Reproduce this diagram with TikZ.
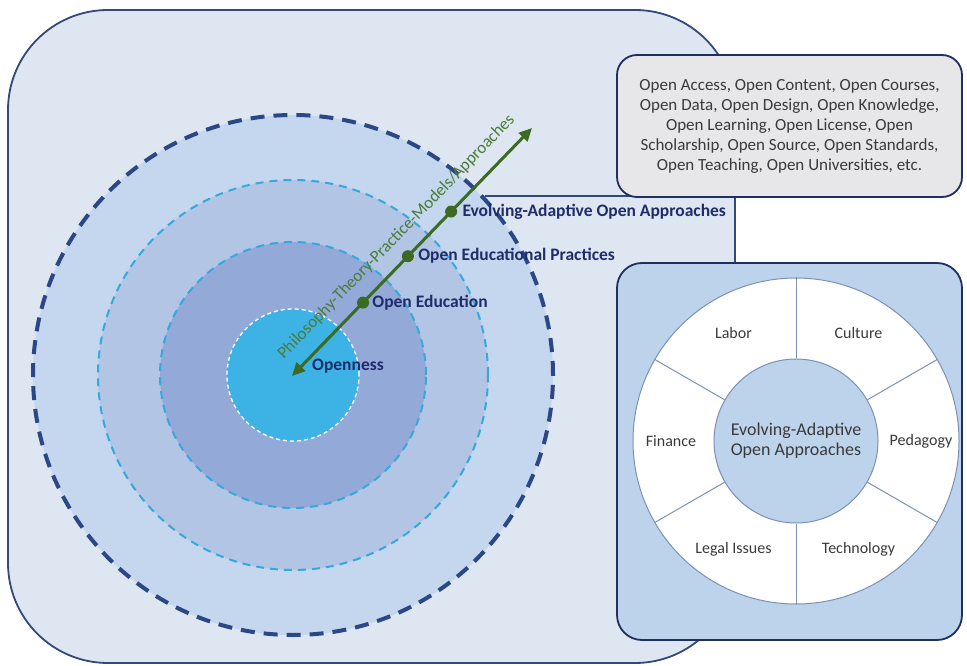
\documentclass[tikz,border=0pt]{standalone}
\usepackage{fontspec}
\setmainfont{Carlito}
\usetikzlibrary{arrows.meta,positioning}
\definecolor{boxfill}{HTML}{DDE6F1}
\definecolor{boxline}{HTML}{34497A}
\definecolor{ringA}{HTML}{C4D7EE}
\definecolor{ringB}{HTML}{B2C5E4}
\definecolor{ringC}{HTML}{93A9D8}
\definecolor{core}{HTML}{3DB2E5}
\definecolor{dashnavy}{HTML}{2B4785}
\definecolor{dashcyan}{HTML}{36A8DC}
\definecolor{navytext}{HTML}{1F2C6A}
\definecolor{leaf}{HTML}{3B6A23}
\definecolor{leaftext}{HTML}{4C7B36}
\definecolor{greyfill}{HTML}{E7E7E9}
\definecolor{panelfill}{HTML}{BDD3EC}
\definecolor{panelline}{HTML}{1F2F5F}
\definecolor{spokeline}{HTML}{7D90B6}
\definecolor{inktext}{HTML}{3A3A3A}
\begin{document}
\begin{tikzpicture}[x=1pt,y=1pt,line join=round,>={Triangle[length=13pt,width=12pt]},
  panel/.style={draw=panelline,line width=1.8pt,rounded corners=#1,inner sep=0pt},
  ring/.style={circle,inner sep=0pt,minimum size=#1},
  stage/.style={anchor=west,inner sep=0pt,text=navytext,font=\bfseries\fontsize{17.5}{20}\selectfont},
  stop/.style={circle,fill=leaf,inner sep=0pt,minimum size=12pt},
  sector/.style={text=inktext,font=\fontsize{16}{18}\selectfont},
  spk/.style={draw=spokeline,line width=1pt}]
\useasboundingbox (0,0) rectangle (967,665);
\node[panel=100pt,draw=boxline,fill=boxfill,minimum width=727pt,minimum height=653pt] (main) at (371.5,328.5) {};

% rings
\coordinate (ctr) at (293,290);
\node[ring=520pt,fill=ringA,draw=dashnavy,line width=4pt,dash pattern=on 14pt off 9pt] (r4) at (ctr) {};
\node[ring=390pt,fill=ringB,draw=dashcyan,line width=2pt,dash pattern=on 8pt off 6pt] (r3) at (ctr) {};
\node[ring=266pt,fill=ringC,draw=dashcyan,line width=2pt,dash pattern=on 8pt off 6pt] (r2) at (ctr) {};
\node[ring=132pt,fill=core,draw=white,line width=1.3pt,dash pattern=on 4pt off 3pt] (r1) at (ctr) {};
\draw[boxline,line width=1.8pt] (r4.43) -- (r4.43 -| main.east);

\node[panel=20pt,fill=greyfill,minimum width=345pt,minimum height=142pt,align=center,text=inktext,font=\fontsize{17}{20}\selectfont] (kinds) at (789.5,539)
  {Open Access, Open Content, Open Courses,\\Open Data, Open Design, Open Knowledge,\\Open Learning, Open License, Open\\Scholarship, Open Source, Open Standards,\\Open Teaching, Open Universities, etc.};

% wheel
\node[panel=25pt,fill=panelfill,minimum width=345pt,minimum height=377pt] (dims) at (789.5,213.5) {};
\node[circle,draw=spokeline,line width=1pt,fill=white,minimum size=326pt,inner sep=0pt] (wheel) at (796,224) {};
\node[circle,draw=spokeline,line width=1pt,fill=panelfill,minimum size=164pt,inner sep=0pt,align=center,text=inktext,font=\fontsize{18}{20}\selectfont] (hub) at (wheel.center) {Evolving-Adaptive\\Open Approaches};
\foreach \a in {30,90,...,330}
  \draw[spk] (hub.\a) -- (wheel.\a);
\foreach \a/\t/\n in {0/Pedagogy/ped,60/Culture/cul,120/Labor/lab,180/Finance/fin,240/Legal Issues/leg,300/Technology/tec}
  \path (wheel.center) ++(\a:125pt) node[sector] (\n) {\t};

% axis
\coordinate (tail) at (292,289);
\coordinate (head) at (532,537);
\draw[leaf,line width=3pt,<->] (tail) -- (head) node[midway,sloped,above=13pt,inner sep=0pt,text=leaftext,font=\fontsize{17}{20}\selectfont] (axis) {Philosophy-Theory-Practice-Models/Approaches};
\foreach \p/\n in {0.296/s1,0.483/s2,0.663/s3}
  \path (tail) -- (head) node[stop,pos=\p] (\n) {};
\node[stage] (open) at (312,299) {Openness};
\node[stage,right=3pt of s1] (edu) {Open Education};
\node[stage,right=4pt of s2] (oep) {Open Educational Practices};
\node[stage,right=5pt of s3] (eoa) {Evolving-Adaptive Open Approaches};
\end{tikzpicture}
\end{document}
